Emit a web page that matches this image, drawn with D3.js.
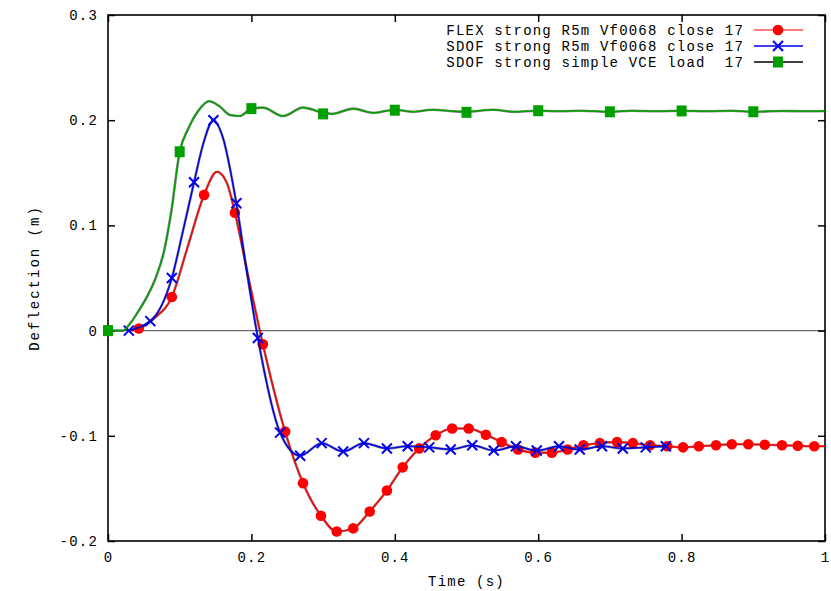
<!DOCTYPE html>
<html>
<head>
<meta charset="utf-8">
<script src="https://cdn.jsdelivr.net/npm/d3@7/dist/d3.min.js"></script>
<style>
  html, body { margin: 0; padding: 0; background: #fff; }
  svg { display: block; }
  text { font-family: "Liberation Mono", "DejaVu Sans Mono", monospace; font-size: 14px; letter-spacing: 1.2px; fill: #000; }
</style>
</head>
<body>
<svg id="chart" width="831" height="591"></svg>
<script>
// ---- data ----
const seriesNames = [
  "FLEX strong R5m Vf0068 close 17",
  "SDOF strong R5m Vf0068 close 17",
  "SDOF strong simple VCE load  17"
];
const xTickValues = [0, 0.2, 0.4, 0.6, 0.8, 1];
const xTickLabels = ["0", "0.2", "0.4", "0.6", "0.8", "1"];
const yTickValues = [-0.2, -0.1, 0, 0.1, 0.2, 0.3];
const yTickLabels = ["-0.2", "-0.1", "0", "0.1", "0.2", "0.3"];
const xLabel = "Time (s)";
const yLabel = "Deflection (m)";

// FLEX (red) curve and markers
const flexCurve = [
  [0.028, 0], [0.043, 0.002], [0.065, 0.012], [0.089, 0.032], [0.110, 0.077],
  [0.134, 0.129], [0.152, 0.151], [0.166, 0.140], [0.177, 0.112], [0.196, 0.050],
  [0.216, -0.013], [0.247, -0.096], [0.272, -0.145], [0.297, -0.176], [0.319, -0.191],
  [0.342, -0.188], [0.365, -0.172], [0.389, -0.152], [0.411, -0.130], [0.434, -0.112],
  [0.457, -0.0995], [0.480, -0.093], [0.503, -0.093], [0.527, -0.099], [0.549, -0.106],
  [0.572, -0.113], [0.596, -0.116], [0.619, -0.116], [0.641, -0.113], [0.663, -0.109],
  [0.686, -0.107], [0.710, -0.106], [0.732, -0.107], [0.756, -0.109], [0.780, -0.110],
  [0.802, -0.111], [0.824, -0.110], [0.848, -0.109], [0.870, -0.108], [0.893, -0.108],
  [0.916, -0.1085], [0.940, -0.109], [0.962, -0.1095], [0.985, -0.110], [1.0, -0.110]
];
const flexMarkers = [
  [0.043, 0.002], [0.089, 0.032], [0.134, 0.129], [0.177, 0.112], [0.216, -0.013],
  [0.247, -0.096], [0.272, -0.145], [0.297, -0.176], [0.319, -0.191], [0.342, -0.188],
  [0.365, -0.172], [0.389, -0.152], [0.411, -0.130], [0.434, -0.112], [0.457, -0.0995],
  [0.480, -0.093], [0.503, -0.093], [0.527, -0.099], [0.549, -0.106], [0.572, -0.113],
  [0.596, -0.116], [0.619, -0.116], [0.641, -0.113], [0.663, -0.109], [0.686, -0.107],
  [0.710, -0.106], [0.732, -0.107], [0.756, -0.109], [0.780, -0.110], [0.802, -0.111],
  [0.824, -0.110], [0.848, -0.109], [0.870, -0.108], [0.893, -0.108], [0.916, -0.1085],
  [0.940, -0.109], [0.962, -0.1095], [0.985, -0.110]
];

// SDOF R5m (blue) curve and markers
const sdofCurve = [
  [0.026, 0], [0.059, 0.009], [0.089, 0.050], [0.105, 0.096], [0.120, 0.141],
  [0.133, 0.178], [0.147, 0.200], [0.160, 0.184], [0.179, 0.121], [0.195, 0.050],
  [0.209, -0.007], [0.240, -0.097], [0.268, -0.119], [0.298, -0.107], [0.328, -0.115],
  [0.357, -0.107], [0.389, -0.112], [0.418, -0.110], [0.448, -0.111], [0.478, -0.113],
  [0.508, -0.109], [0.538, -0.114], [0.569, -0.110], [0.598, -0.114], [0.629, -0.110],
  [0.658, -0.113], [0.689, -0.110], [0.718, -0.112], [0.750, -0.111], [0.778, -0.110]
];
const sdofMarkers = [
  [0.029, 0], [0.059, 0.009], [0.089, 0.050], [0.120, 0.141], [0.147, 0.200],
  [0.179, 0.121], [0.209, -0.007], [0.240, -0.097], [0.268, -0.119], [0.298, -0.107],
  [0.328, -0.115], [0.357, -0.107], [0.389, -0.112], [0.418, -0.110], [0.448, -0.111],
  [0.478, -0.113], [0.508, -0.109], [0.538, -0.114], [0.569, -0.110], [0.598, -0.114],
  [0.629, -0.110], [0.658, -0.113], [0.689, -0.110], [0.718, -0.112], [0.750, -0.111],
  [0.778, -0.110]
];

// SDOF simple VCE load (green) curve and markers
const vceCurve = [
  [0, 0], [0.021, 0], [0.030, 0.006], [0.042, 0.018], [0.055, 0.033], [0.067, 0.051],
  [0.078, 0.075], [0.088, 0.112], [0.100, 0.170], [0.112, 0.192],
  [0.126, 0.209], [0.141, 0.218], [0.156, 0.213], [0.170, 0.205], [0.184, 0.204],
  [0.200, 0.211], [0.216, 0.212], [0.244, 0.204], [0.272, 0.212], [0.300, 0.207],
  [0.312, 0.206], [0.342, 0.211], [0.370, 0.207], [0.400, 0.210], [0.425, 0.208],
  [0.453, 0.210], [0.481, 0.2085], [0.500, 0.208], [0.537, 0.210], [0.565, 0.208],
  [0.600, 0.209], [0.630, 0.2085], [0.660, 0.209], [0.700, 0.208], [0.730, 0.209],
  [0.765, 0.2085], [0.800, 0.209], [0.835, 0.2085], [0.870, 0.209], [0.900, 0.208],
  [0.940, 0.2088], [0.970, 0.2085], [1.0, 0.2088]
];
const vceMarkers = [
  [0, 0], [0.1, 0.170], [0.2, 0.211], [0.3, 0.206], [0.4, 0.2095], [0.5, 0.2075],
  [0.6, 0.209], [0.7, 0.208], [0.8, 0.2088], [0.9, 0.208]
];

const colors = ["#ff0000", "#0000ee", "#00a000"];

// ---- chart ----
const svg = d3.select("#chart");
const L = 108, R = 825, T = 15, B = 541;
const x = d3.scaleLinear().domain([0, 1]).range([L, R]);
const y = d3.scaleLinear().domain([-0.2, 0.3]).range([B, T]);

// zero axis
svg.append("line")
  .attr("x1", x(0)).attr("x2", x(1))
  .attr("y1", y(0)).attr("y2", y(0))
  .attr("stroke", "#6a6a6a").attr("stroke-width", 1.2);

// axes with inward ticks (mirrored)
const tickLen = 7;
const axB = svg.append("g").attr("transform", `translate(0,${B})`)
  .call(d3.axisBottom(x).tickValues(xTickValues).tickSize(-tickLen).tickPadding(8)
        .tickFormat((d, i) => xTickLabels[i]));
const axT = svg.append("g").attr("transform", `translate(0,${T})`)
  .call(d3.axisTop(x).tickValues(xTickValues).tickSize(-tickLen).tickFormat(""));
const axL = svg.append("g").attr("transform", `translate(${L},0)`)
  .call(d3.axisLeft(y).tickValues(yTickValues).tickSize(-tickLen).tickPadding(10)
        .tickFormat((d, i) => yTickLabels[i]));
const axR = svg.append("g").attr("transform", `translate(${R},0)`)
  .call(d3.axisRight(y).tickValues(yTickValues).tickSize(-tickLen).tickFormat(""));
[axB, axT, axL, axR].forEach(a => {
  a.select(".domain").remove();
  a.selectAll(".tick line").attr("stroke", "#000").attr("stroke-width", 1.5);
  a.selectAll("text").attr("font-family", null).attr("font-size", null).attr("fill", "#000");
});
axB.selectAll("text").attr("dy", "0.9em");

// frame
svg.append("rect")
  .attr("x", L).attr("y", T).attr("width", R - L).attr("height", B - T)
  .attr("fill", "none").attr("stroke", "#000").attr("stroke-width", 1.6);

// axis labels
svg.append("text")
  .attr("x", (L + R) / 2).attr("y", 586)
  .attr("text-anchor", "middle")
  .text(xLabel);
svg.append("text")
  .attr("transform", `translate(39,${(T + B) / 2}) rotate(-90)`)
  .attr("text-anchor", "middle")
  .style("letter-spacing", "2px")
  .text(yLabel);

const line = d3.line().x(d => x(d[0])).y(d => y(d[1])).curve(d3.curveMonotoneX);

function drawSeries(curve, color) {
  const g = svg.append("g");
  g.append("path").attr("d", line(curve)).attr("fill", "none")
    .attr("stroke", "#000").attr("stroke-opacity", 0.45).attr("stroke-width", 2.6);
  g.append("path").attr("d", line(curve)).attr("fill", "none")
    .attr("stroke", color).attr("stroke-width", 1.5);
  return g;
}
function drawCircle(g, cx, cy, color) {
  g.append("circle").attr("cx", cx).attr("cy", cy).attr("r", 5.3).attr("fill", color);
}
function drawCross(g, cx, cy, color) {
  const s = 5;
  g.append("path").attr("d", `M${cx - s},${cy - s}L${cx + s},${cy + s}M${cx - s},${cy + s}L${cx + s},${cy - s}`)
    .attr("stroke", color).attr("stroke-width", 2).attr("fill", "none");
}
function drawSquare(g, cx, cy, color) {
  g.append("rect").attr("x", cx - 5).attr("y", cy - 5.5).attr("width", 10).attr("height", 11).attr("fill", color);
}

const gF = drawSeries(flexCurve, colors[0]);
flexMarkers.forEach(d => drawCircle(gF, x(d[0]), y(d[1]), colors[0]));
const gS = drawSeries(sdofCurve, colors[1]);
sdofMarkers.forEach(d => drawCross(gS, x(d[0]), y(d[1]), colors[1]));
const gV = drawSeries(vceCurve, colors[2]);
vceMarkers.forEach(d => drawSquare(gV, x(d[0]), y(d[1]), colors[2]));

// legend
const legendY = [30, 46, 62];
const drawers = [drawCircle, drawCross, drawSquare];
const lineColors = ["#ff5050", "#0000ee", "#000"];
seriesNames.forEach((name, i) => {
  svg.append("text")
    .attr("x", 744).attr("y", legendY[i]).attr("dy", "0.35em")
    .attr("text-anchor", "end")
    .attr("xml:space", "preserve")
    .style("white-space", "pre")
    .text(name);
  const g = svg.append("g");
  g.append("line").attr("x1", 754).attr("x2", 803).attr("y1", legendY[i]).attr("y2", legendY[i])
    .attr("stroke", lineColors[i]).attr("stroke-width", 1.5);
  drawers[i](g, 778, legendY[i], colors[i]);
});
</script>
</body>
</html>
